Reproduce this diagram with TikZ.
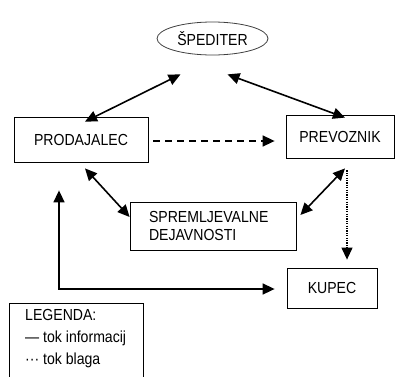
\documentclass[tikz,border=0pt]{standalone}
\usepackage{fontspec}
\setmainfont{Liberation Sans}[FakeStretch=0.88]
\usetikzlibrary{arrows.meta,shapes.geometric}

\begin{document}
\begin{tikzpicture}[x=1pt,y=1pt,font=\fontsize{16}{18}\selectfont,
        >={Triangle[length=12pt,width=11pt]},
        box/.style={draw,line width=0.8pt,inner sep=0pt},
        info/.style={<->,line width=1.6pt},
        goods/.style={->,line width=1.2pt,dash pattern=on 1.2pt off 1.2pt}]
      \useasboundingbox (0,0) rectangle (395,376);
      \node[draw=black!75,line width=0.8pt,ellipse,minimum width=111pt,minimum height=33pt,inner sep=0pt] (sped) at (212.5,337.5) {ŠPEDITER};
      \node[box,minimum width=134pt,minimum height=45pt] (prod) at (81,236.5) {PRODAJALEC};
      \node[box,minimum width=108pt,minimum height=43pt] (prev) at (340,239.5) {PREVOZNIK};
      \node[box,minimum width=166pt,minimum height=48pt,align=left,text width=128pt,inner xsep=19pt] (sprem) at (213,150) {SPREMLJEVALNE\\DEJAVNOSTI};
      \node[box,minimum width=90pt,minimum height=40pt] (kupec) at (332,88) {KUPEC};
      \node[box,anchor=north west,minimum width=134pt,minimum height=85pt] (leg) at (9,73) {};
      \node[anchor=north west,align=left,inner sep=0pt,font=\fontsize{16}{22}\selectfont] (legtxt) at ([xshift=16pt,yshift=-6pt]leg.north west) {LEGENDA:\\— tok informacij\\··· tok blaga};
      % tok informacij
      \draw[info] ([xshift=-32pt,yshift=-19pt]sped.south) -- ([xshift=4pt,yshift=-5pt]prod.north);
      \draw[info] ([xshift=15pt,yshift=-19pt]sped.south) -- ([xshift=5pt,yshift=-3pt]prev.north);
      \draw[info] ([xshift=4pt,yshift=-6pt]prod.south) -- ([yshift=9pt]sprem.west);
      \draw[info] ([xshift=5pt,yshift=-10pt]prev.south) -- ([xshift=4pt,yshift=11pt]sprem.east);
      \draw[info] ([xshift=-22pt,yshift=-28pt]prod.south) |- ([xshift=-12pt,yshift=-1pt]kupec.west);
      \draw[->,line width=1.6pt,dash pattern=on 7pt off 5pt] ([xshift=5pt,yshift=-1.5pt]prod.east) -- ([xshift=-11pt,yshift=-4.5pt]prev.west);
      % tok blaga
      \draw[goods] ([xshift=7pt,yshift=-12pt]prev.south) -- ([xshift=15pt,yshift=8pt]kupec.north);
    \end{tikzpicture}
\end{document}
